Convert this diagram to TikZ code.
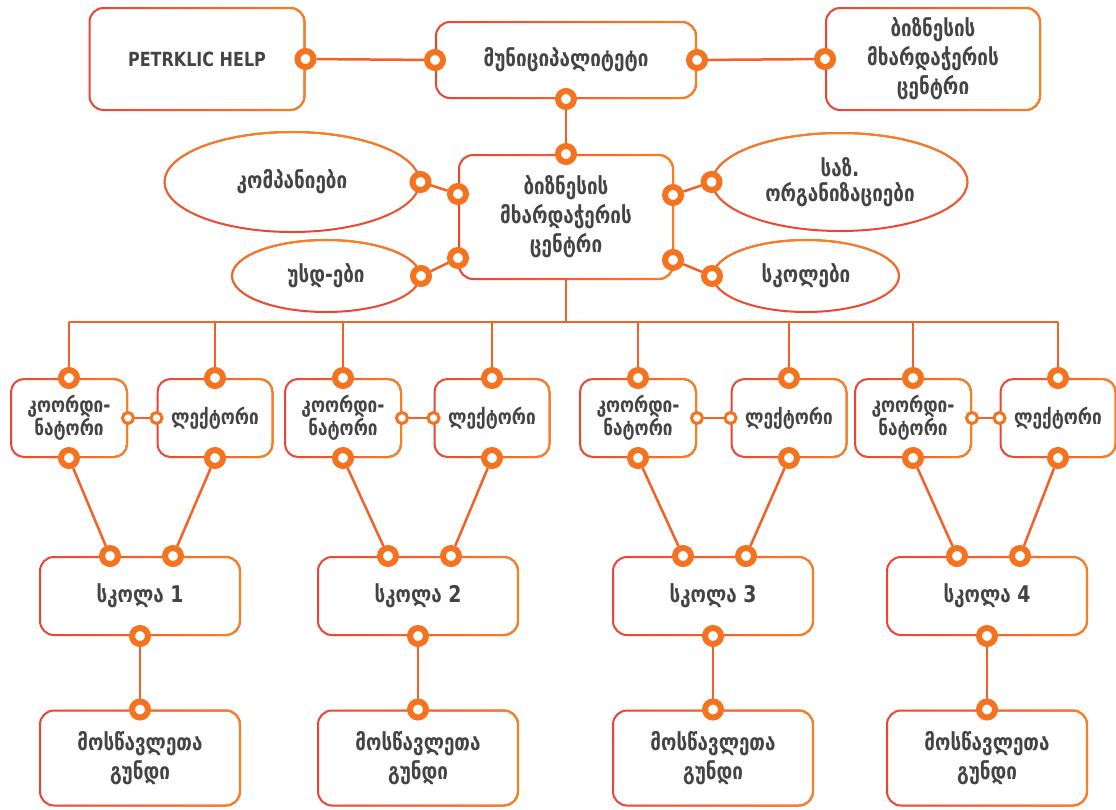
\documentclass[tikz,border=0pt]{standalone}
\usepackage{fontspec}
\setmainfont{DejaVu Sans}[FakeStretch=0.82]
\usetikzlibrary{positioning,shapes.geometric,fadings}
\definecolor{linered}{RGB}{234,68,54}
\definecolor{lineorange}{RGB}{248,130,32}
\definecolor{dotorange}{RGB}{245,115,30}
\definecolor{linkcolor}{RGB}{242,98,40}
\definecolor{textgray}{RGB}{68,68,68}
\tikzset{
  box/.style={draw=linered, rounded corners=14pt, line width=2pt, align=center, fill=white,
    text=textgray, font=\bfseries\fontsize{23}{29}\selectfont,
    postaction={draw=lineorange, path fading=west}},
  smallbox/.style={box, rounded corners=13pt, minimum width=116pt, minimum height=78pt,
    inner sep=2pt, font=\bfseries\fontsize{21}{21}\selectfont},
  oval/.style={ellipse, draw=linered, line width=2pt, align=center, fill=white, inner sep=0pt,
    text=textgray, font=\bfseries\fontsize{23}{25}\selectfont,
    postaction={draw=lineorange, path fading=south}},
  dot/.style={circle, draw=dotorange, fill=white, line width=6pt, minimum size=16pt, inner sep=0pt},
  smalldot/.style={dot, line width=3pt, minimum size=11pt},
  link/.style={draw=linkcolor, line width=2.5pt},
}
\begin{document}
\begin{tikzpicture}[x=1pt, y=-1pt]
  \useasboundingbox (0,0) rectangle (1116,809);

  % top row
  \node[box, minimum width=215pt, minimum height=102pt, font=\bfseries\fontsize{19.5}{22}\selectfont] (petr) at (197,59) {PETRKLIC HELP};
  \node[box, minimum width=260pt, minimum height=76pt] (muni) at (566,60) {მუნიციპალიტეტი};
  \node[box, minimum width=214pt, minimum height=102pt] (bizr) at (933,59) {ბიზნესის\\მხარდაჭერის\\ცენტრი};

  % centre with partners
  \node[box, minimum width=214pt, minimum height=124pt] (bizc) at (566,217) {ბიზნესის\\მხარდაჭერის\\ცენტრი};
  \node[oval, minimum width=255pt, minimum height=100pt] (komp) at (292,182) {კომპანიები};
  \node[oval, minimum width=188pt, minimum height=72pt] (usd) at (326,276) {უსდ-ები};
  \node[oval, minimum width=255pt, minimum height=98pt] (saz) at (840,182) {საზ.\\ორგანიზაციები};
  \node[oval, minimum width=186pt, minimum height=72pt] (skol) at (806,276) {სკოლები};

  \node[dot] (petr-r) at (petr.east) {};
  \node[dot] (muni-l) at (muni.west) {};
  \node[dot] (muni-r) at (muni.east) {};
  \node[dot] (muni-b) at (muni.south) {};
  \node[dot] (bizr-l) at (bizr.west) {};
  \node[dot] (bizc-t) at (bizc.north) {};
  \node[dot] (bizc-lt) at (458,194) {};
  \node[dot] (bizc-lb) at (458,258) {};
  \node[dot] (bizc-rt) at (673,195) {};
  \node[dot] (bizc-rb) at (673,260) {};
  \node[dot] (komp-r) at (komp.east) {};
  \node[dot] (usd-r) at (usd.east) {};
  \node[dot] (saz-l) at (saz.west) {};
  \node[dot] (skol-l) at (skol.west) {};

  \draw[link] (petr-r) -- (muni-l);
  \draw[link] (muni-r) -- (bizr-l);
  \draw[link] (muni-b) -- (bizc-t);
  \draw[link] (komp-r) -- (bizc-lt);
  \draw[link] (usd-r) -- (bizc-lb);
  \draw[link] (saz-l) -- (bizc-rt);
  \draw[link] (skol-l) -- (bizc-rb);

  % bus to the schools
  \coordinate (bus) at (bizc.south |- 0,322);
  \draw[link] (bizc.south) -- (bus);

  \foreach \i/\cx/\lx/\sx in {1/69/215/140, 2/343/492/418, 3/638/789/713, 4/913/1058/987} {
    \node[smallbox] (coord\i) at (\cx,418) {კოორდი-\\ნატორი};
    \node[smallbox, minimum width=115pt] (lect\i) at (\lx,418) {ლექტორი};
    \node[box, minimum width=200pt, minimum height=78pt] (school\i) at (\sx,596) {სკოლა \i};
    \node[box, minimum width=200pt, minimum height=95pt] (team\i) at (\sx,758) {მოსწავლეთა\\გუნდი};

    \node[dot] (coord\i-t) at (coord\i.north) {};
    \node[dot] (coord\i-b) at (coord\i.south) {};
    \node[dot] (lect\i-t) at (lect\i.north) {};
    \node[dot] (lect\i-b) at (lect\i.south) {};
    \node[smalldot] (coord\i-r) at (coord\i.east) {};
    \node[smalldot] (lect\i-l) at (lect\i.west) {};
    \node[dot] (school\i-l) at ([xshift=-30pt]school\i.north) {};
    \node[dot] (school\i-r) at ([xshift=33pt]school\i.north) {};
    \node[dot] (school\i-b) at (school\i.south) {};
    \node[dot] (team\i-t) at (team\i.north) {};

    \draw[link] (coord\i-t |- bus) -- (coord\i-t);
    \draw[link] (lect\i-t |- bus) -- (lect\i-t);
    \draw[link] (coord\i-r) -- (lect\i-l);
    \draw[link] (coord\i-b) -- (school\i-l);
    \draw[link] (lect\i-b) -- (school\i-r);
    \draw[link] (school\i-b) -- (team\i-t);
  }
  \draw[link] (coord1-t |- bus) -- (lect4-t |- bus);
\end{tikzpicture}
\end{document}
